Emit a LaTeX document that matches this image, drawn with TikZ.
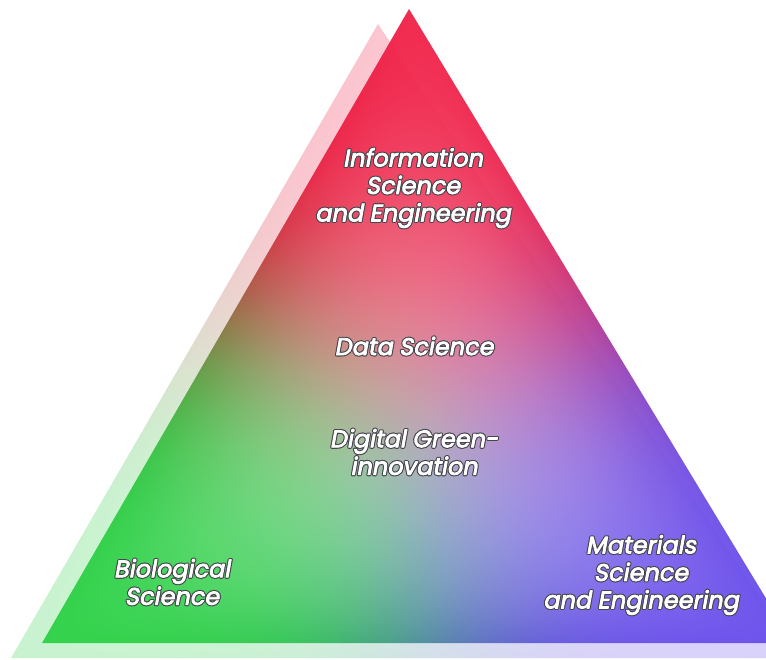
\documentclass[tikz,border=0pt]{standalone}
\usepackage{fontspec}
\newfontfamily\labelfont[FakeSlant=0.18]{Poppins}
\usetikzlibrary{calc}

% barycentric three-colour shading for a triangle whose bounding box
% is mapped onto the central 50bp x 50bp square
\pgfdeclarefunctionalshading{tricolor}{\pgfpoint{-50bp}{-50bp}}{\pgfpoint{50bp}{50bp}}{}{
  25 add 50 div exch 25 add 50 div exch
  dup 3 1 roll 2 div sub 2 copy add 1 exch sub exch
  3 copy mul mul 11 mul 4 1 roll
  abs dup dup mul mul 3 1 roll abs dup dup mul mul 3 1 roll abs dup dup mul mul 3 1 roll
  3 copy add add 4 1 roll
  3 index div 3 1 roll
  3 index div 3 1 roll
  3 index div
  4 -1 roll pop 3 1 roll
  2 index 0.94 mul 2 index 0.18 mul add 1 index 0.42 mul add
  3 index 0.14 mul 3 index 0.82 mul add 2 index 0.31 mul add
  4 index 0.29 mul 4 index 0.28 mul add 3 index 0.92 mul add
  6 3 roll pop pop pop
  4 -1 roll 1 exch sub
  exch 1 exch sub 1 index mul 1 exch sub
  3 1 roll
  exch 1 exch sub 1 index mul 1 exch sub
  3 1 roll
  4 -1 roll
  1 exch sub 1 index mul 1 exch sub
  exch pop 3 1 roll
}

% one line of white text with a dark halo (stroked copy underneath)
\newcommand\halo[1]{%
  \rlap{\special{pdf:literal direct 2 Tr 3.0 w 1 j 0.27 0.27 0.3 RG}#1}%
  \special{pdf:literal direct 2 Tr 0.8 w 1 j 1 1 1 RG}#1%
  \special{pdf:literal direct 0 Tr 1 w 0 j 0 0 0 RG}}

\tikzset{
  lbl/.style={font=\labelfont\fontsize{24}{27.5}\selectfont, text=white,
              align=center, inner sep=0pt},
}

\begin{document}
\begin{tikzpicture}[x=1pt,y=-1pt]
\useasboundingbox (0,0) rectangle (766,660);
% back (light) triangle
\coordinate (bA) at (378,24);
\coordinate (bL) at (11,658);
\coordinate (bR) at (800,658);
% main triangle
\coordinate (mA) at (409,9);
\coordinate (mL) at (42,643);
\coordinate (mR) at (793,643);

\shade[shading=tricolor, opacity=0.26] (bA) -- (bL) -- (bR) -- cycle;
\shade[shading=tricolor, opacity=0.96] (mA) -- (mL) -- (mR) -- cycle;

\node[lbl] (info) at (413,188) {\halo{Information}\\\halo{Science}\\\halo{and Engineering}};
\node[lbl] (data) at (414,346) {\halo{Data Science}};
\node[lbl] (dgi)  at (414,452) {\halo{Digital Green-}\\\halo{innovation}};
\node[lbl] (bio)  at (172,582) {\halo{Biological}\\\halo{Science}};
\node[lbl] (mat)  at (641,575) {\halo{Materials}\\\halo{Science}\\\halo{and Engineering}};
\end{tikzpicture}
\end{document}
